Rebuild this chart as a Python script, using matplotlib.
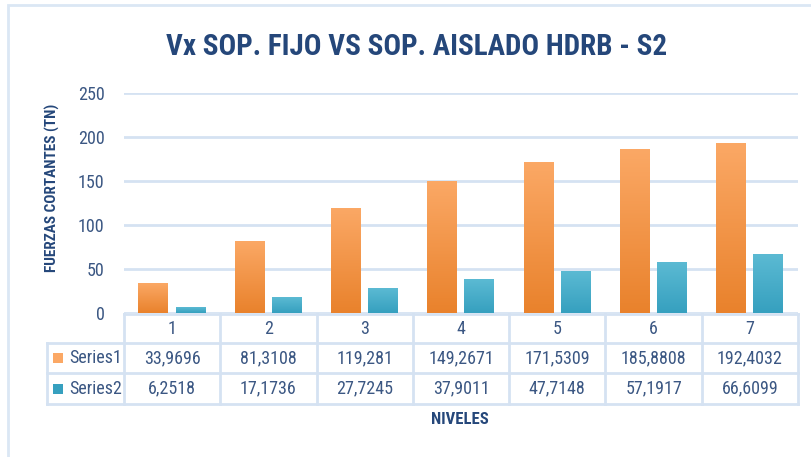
import numpy as np
import matplotlib.pyplot as plt
from matplotlib import font_manager
from matplotlib.patches import Rectangle
from matplotlib.colors import LinearSegmentedColormap
import matplotlib.transforms as mtransforms

# data
niveles = ['1', '2', '3', '4', '5', '6', '7']
series1 = [33.9696, 81.3108, 119.281, 149.2671, 171.5309, 185.8808, 192.4032]
series2 = [6.2518, 17.1736, 27.7245, 37.9011, 47.7148, 57.1917, 66.6099]
series1_txt = ['33,9696', '81,3108', '119,281', '149,2671', '171,5309', '185,8808', '192,4032']
series2_txt = ['6,2518', '17,1736', '27,7245', '37,9011', '47,7148', '57,1917', '66,6099']
yticks = [0, 50, 100, 150, 200, 250]

# pick a narrow font if one is there
names = set(f.name for f in font_manager.fontManager.ttflist)
fam = 'DejaVu Sans'
for cand in ['Roboto Condensed', 'Liberation Sans Narrow', 'Open Sans Condensed', 'Noto Sans Condensed']:
    if cand in names:
        fam = cand
        break
plt.rcParams['font.family'] = [fam, 'DejaVu Sans']

txt_col = '#3b5783'
title_col = '#25477a'
grid_col = '#d5e2f2'
orange_top, orange_bot = '#fba865', '#e9822c'
blue_top, blue_bot = '#5bbad3', '#36a0bf'

W, H = 811, 457
fig = plt.figure(figsize=(W / 100, H / 100), dpi=100)

# outer frame
fig.patches.append(Rectangle((8 / W, -0.05), 1.2, 1 - 5 / H + 0.05, transform=fig.transFigure,
                             fill=False, edgecolor='#dbe7f4', linewidth=2))

ax = fig.add_axes([124 / W, 1 - 313 / H, (798 - 124) / W, (313 - 93) / H])
x = np.arange(len(niveles))
bw = 0.31
b1 = ax.bar(x - 0.195, series1, width=bw, color='none', zorder=3)
b2 = ax.bar(x + 0.19, series2, width=bw, color='none', zorder=3)

# vertical gradient on each bar
for bars, c_top, c_bot in [(b1, orange_top, orange_bot), (b2, blue_top, blue_bot)]:
    cmap = LinearSegmentedColormap.from_list('g', [c_bot, c_top])
    for p in bars:
        x0, w, h = p.get_x(), p.get_width(), p.get_height()
        grad = np.linspace(1, 0, 100).reshape(-1, 1)
        ax.imshow(grad, extent=[x0, x0 + w, 0, h], aspect='auto', cmap=cmap, vmin=0, vmax=1,
                  zorder=3)
ax.set_xlim(-0.5, 6.5)
ax.set_ylim(0, 250)
ax.set_yticks(yticks)
ax.set_yticklabels([str(v) for v in yticks], color=txt_col, fontsize=13)
ax.tick_params(axis='y', length=0, pad=14)
ax.set_xticks([])
ax.grid(axis='y', color=grid_col, linewidth=2, zorder=0)
for s in ax.spines.values():
    s.set_visible(False)

# data table under the plot
tr = mtransforms.blended_transform_factory(ax.transData, fig.transFigure)
rows_y = [1 - 314 / H, 1 - 343 / H, 1 - 373 / H, 1 - 404 / H]
line_kw = dict(color=grid_col, linewidth=2, transform=tr, clip_on=False)
lab_left = -0.5 - (124 - 47) / ((798 - 124) / 7)
for i, yy in enumerate(rows_y):
    x0 = -0.5 if i == 0 else lab_left
    ax.plot([x0, 6.5], [yy, yy], **line_kw)
for xv in np.arange(-0.5, 7.0, 1.0):
    ax.plot([xv, xv], [rows_y[0], rows_y[3]], **line_kw)
ax.plot([lab_left, lab_left], [rows_y[1], rows_y[3]], **line_kw)

for i in range(len(niveles)):
    ax.text(i, (rows_y[0] + rows_y[1]) / 2, niveles[i], transform=tr, ha='center', va='center',
            color=txt_col, fontsize=13)
    ax.text(i, (rows_y[1] + rows_y[2]) / 2, series1_txt[i], transform=tr, ha='center', va='center',
            color=txt_col, fontsize=13)
    ax.text(i, (rows_y[2] + rows_y[3]) / 2, series2_txt[i], transform=tr, ha='center', va='center',
            color=txt_col, fontsize=13)

# legend keys inside table
for r, (name, col) in enumerate([('Series1', orange_top), ('Series2', blue_bot)]):
    yc = (rows_y[r + 1] + rows_y[r + 2]) / 2
    fig.patches.append(Rectangle((53 / W, yc - 5 / H), 10 / W, 10 / H, transform=fig.transFigure,
                                 facecolor=col, edgecolor='none'))
    fig.text(69 / W, yc, name, ha='left', va='center', color=txt_col, fontsize=13)

fig.text(417 / W, 1 - 47 / H, 'Vx SOP. FIJO VS SOP. AISLADO HDRB - S2', ha='center', va='center',
         color=title_col, fontsize=21, fontweight='bold')
fig.text(460 / W, 1 - 420 / H, 'NIVELES', ha='center', va='center', color=title_col,
         fontsize=12, fontweight='bold')
fig.text(52 / W, 1 - 188 / H, 'FUERZAS CORTANTES (TN)', ha='center', va='center', rotation=90,
         color=title_col, fontsize=11, fontweight='bold')

fig.savefig('out.png', dpi=100)
